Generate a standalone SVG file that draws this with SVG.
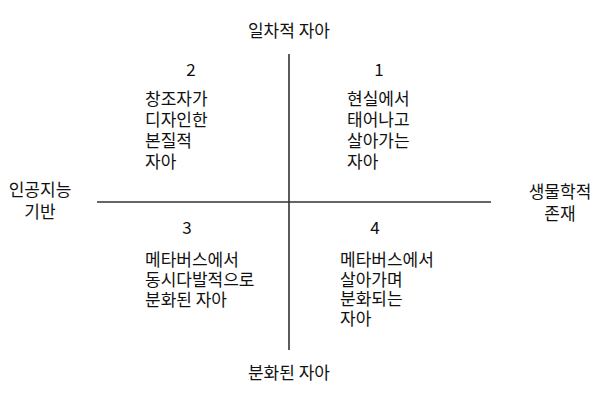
<svg xmlns="http://www.w3.org/2000/svg" width="600" height="400" viewBox="0 0 600 400">
<style>
text{font-family:"Noto Sans CJK KR","Liberation Sans",sans-serif;font-size:17px;fill:#111}
.c{text-anchor:middle}
.axis{stroke:#333;stroke-width:1.6;fill:none}
</style>
<rect width="600" height="400" fill="#fff"/>
<g id="connectors">
<line class="axis" x1="289" y1="54" x2="289" y2="350"/>
<line class="axis" x1="97" y1="202" x2="491" y2="202"/>
</g>
<g id="axis-top"><text class="c" x="289" y="37">일차적 자아</text></g>
<g id="axis-bottom"><text class="c" x="289" y="379">분화된 자아</text></g>
<g id="axis-left"><text class="c" x="40" y="196"><tspan x="40">인공지능</tspan><tspan x="40" dy="22">기반</tspan></text></g>
<g id="axis-right"><text class="c" x="560" y="198"><tspan x="560">생물학적</tspan><tspan x="560" dy="22">존재</tspan></text></g>
<g id="q2"><text class="c" x="191" y="76">2</text>
<text x="145" y="105"><tspan x="145">창조자가</tspan><tspan x="145" dy="21">디자인한</tspan><tspan x="145" dy="21">본질적</tspan><tspan x="145" dy="21">자아</tspan></text></g>
<g id="q1"><text class="c" x="379" y="76">1</text>
<text x="347" y="105"><tspan x="347">현실에서</tspan><tspan x="347" dy="21">태어나고</tspan><tspan x="347" dy="21">살아가는</tspan><tspan x="347" dy="21">자아</tspan></text></g>
<g id="q3"><text class="c" x="187" y="234">3</text>
<text x="145" y="266"><tspan x="145">메타버스에서</tspan><tspan x="145" dy="20">동시다발적으로</tspan><tspan x="145" dy="20">분화된 자아</tspan></text></g>
<g id="q4"><text class="c" x="375" y="234">4</text>
<text x="340" y="266"><tspan x="340">메타버스에서</tspan><tspan x="340" dy="20">살아가며</tspan><tspan x="340" dy="19">분화되는</tspan><tspan x="340" dy="20">자아</tspan></text></g>
</svg>
